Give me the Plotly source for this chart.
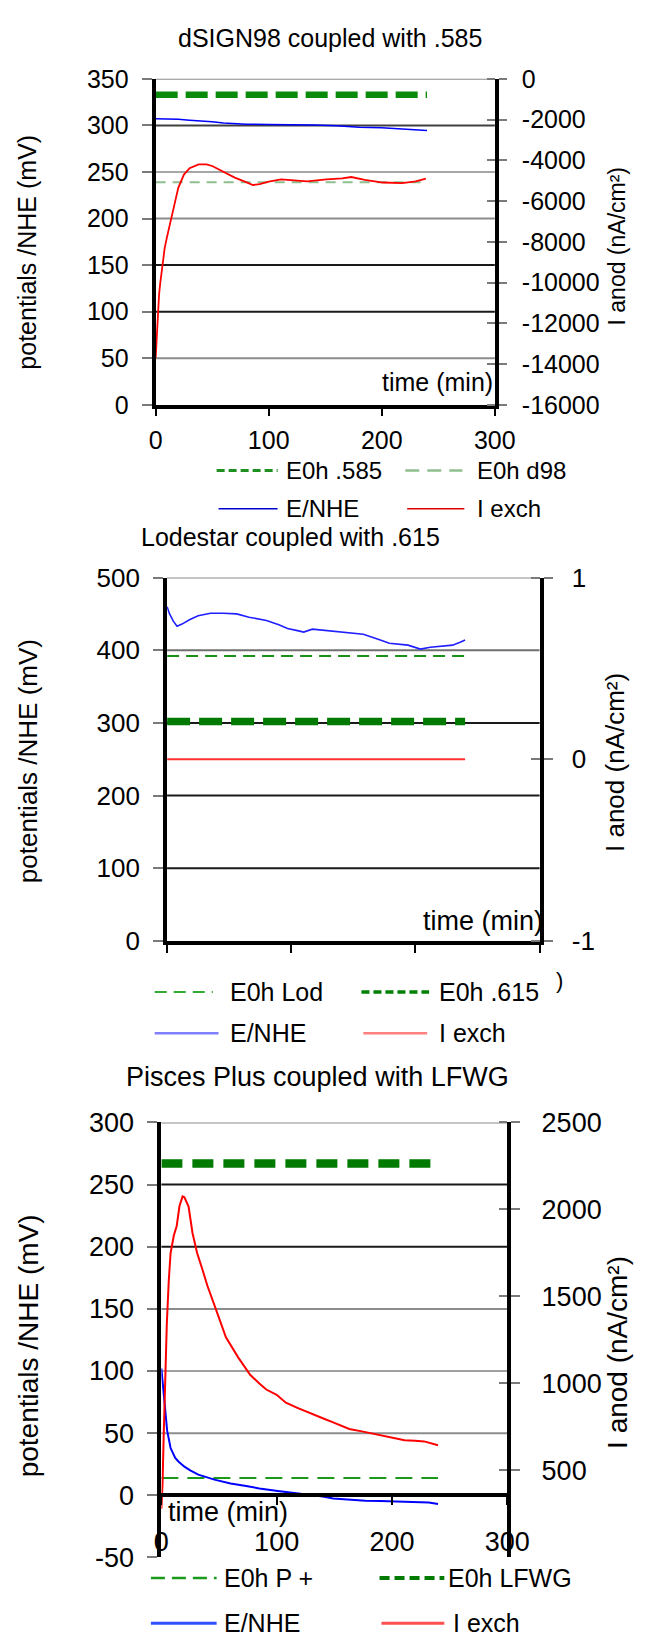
import plotly.graph_objects as go

W, H = 655, 1649
FONT = "Liberation Sans, Arial, Helvetica, sans-serif"


def px(x):
    return x / W


def py(y):
    return 1 - y / H


# ---------------- data ----------------
# Chart 1: dSIGN98 coupled with .585
c1_title = "dSIGN98 coupled with .585"
c1_ref_t = [0, 240]
c1_e0h_585 = [333, 333]
c1_e0h_d98 = [239, 239]
c1_blue_t = [0, 10, 20, 30, 40, 50, 60, 70, 80, 100, 120, 140, 160, 170, 180, 200, 220, 240]
c1_blue = [307, 307, 306.5, 305.5, 305, 304, 302.5, 301.5, 301.2, 301, 300.8, 300.3, 299.5,
           298.5, 298, 297.5, 296, 294.5]
c1_red_t = [0, 1, 2, 3, 4, 5, 6, 8, 10, 13, 16, 20, 25, 30, 38, 45, 50, 60, 70, 80, 86, 92, 100,
            111, 120, 134, 151, 165, 173, 185, 201, 218, 230, 239]
c1_red = [-13700, -12600, -11400, -10600, -10050, -9600, -9150, -8300, -7770, -7040, -6170,
          -5350, -4700, -4390, -4200, -4200, -4280, -4570, -4850, -5070, -5210, -5170, -5050,
          -4940, -4980, -5030, -4940, -4890, -4820, -4960, -5090, -5120, -5030, -4900]
c1_yticks = [0, 50, 100, 150, 200, 250, 300, 350]
c1_y2ticks = [-16000, -14000, -12000, -10000, -8000, -6000, -4000, -2000, 0]
c1_legend = ["E0h .585", "E0h d98", "E/NHE", "I exch"]

# Chart 2: Lodestar coupled with .615
c2_title = "Lodestar coupled with .615"
c2_ref_t = [0, 240]
c2_e0h_lod = [392, 392]
c2_e0h_615 = [302, 302]
c2_red = [0, 0]
c2_blue_t = [0, 2, 5, 8, 12, 18, 25, 35, 45, 56, 66, 80, 90, 97, 105, 110, 117, 130, 143, 158,
             170, 179, 194, 204, 212, 220, 230, 236, 240]
c2_blue = [460, 450, 440, 433, 436, 442, 447.5, 451, 451, 450, 445.5, 441, 435, 430, 427, 425,
           429, 427, 425, 422, 415, 409.5, 407, 401.5, 404, 405, 407, 411, 414]
c2_yticks = [0, 100, 200, 300, 400, 500]
c2_y2ticks = [-1, 0, 1]
c2_legend = ["E0h Lod", "E0h .615", "E/NHE", "I exch"]

# Chart 3: Pisces Plus coupled with LFWG
c3_title = "Pisces Plus coupled with LFWG"
c3_ref_t = [0, 240]
c3_e0h_p = [14, 14]
c3_e0h_lfwg = [267, 267]
c3_blue_t = [0, 1, 2, 3, 5, 8, 12, 15, 20, 25, 32, 46, 60, 73.5, 85, 101, 115, 128.6, 140, 149,
             160, 177, 190, 204, 215, 225, 232, 240]
c3_blue = [102, 92, 80, 69, 52, 38, 30, 27, 23, 20, 16.6, 12.6, 9.5, 7.4, 5.5, 3.5, 2, 0.8, -1,
           -2.6, -3.5, -4.4, -4.5, -5, -5.3, -5.8, -5.8, -7]
c3_red_t = [0, 1, 2, 3, 4, 4.7, 6.4, 8, 10.8, 13.3, 15.7, 18.4, 20, 23.6, 27, 31, 35.6, 40, 46,
            56, 66.6, 77, 85, 91, 100, 108, 118, 128.6, 140, 149, 163, 175, 183.5, 197.5, 211,
            220, 228, 240]
c3_red = [280, 420, 700, 960, 1200, 1340, 1590, 1750, 1850, 1905, 2020, 2075, 2070, 2017, 1865,
          1750, 1655, 1560, 1450, 1265, 1150, 1050, 1000, 965, 935, 889, 860, 833, 800, 776, 738,
          723, 711, 692, 673, 670, 667, 645]
c3_yticks = [-50, 0, 50, 100, 150, 200, 250, 300]
c3_y2ticks = [500, 1000, 1500, 2000, 2500]
c3_legend = ["E0h P +", "E0h LFWG", "E/NHE", "I exch"]

x_ticks = [0, 100, 200, 300]

# ---------------- figure ----------------
fig = go.Figure()


def line(x, y, xa, ya, color, width, dash="solid"):
    fig.add_trace(go.Scatter(x=x, y=y, xaxis=xa, yaxis=ya, mode="lines", showlegend=False,
                             hoverinfo="skip",
                             line=dict(color=color, width=width, dash=dash)))


# chart 1
line(c1_ref_t, c1_e0h_d98, "x", "y", "#8fbf8f", 2, "10px,7px")
line(c1_ref_t, c1_e0h_585, "x", "y", "#0a8a0a", 6.5, "22px,8px")
line(c1_blue_t, c1_blue, "x", "y", "#0000ff", 1.5)
line(c1_red_t, c1_red, "x", "y2", "#ff0000", 1.8)

# chart 2
line(c2_ref_t, c2_e0h_lod, "x2", "y3", "#1a8f1a", 2, "12px,7px")
line(c2_ref_t, c2_e0h_615, "x2", "y3", "#007a00", 7.5, "23px,9px")
line(c2_blue_t, c2_blue, "x2", "y3", "#1f1fff", 1.6)
line(c2_ref_t, c2_red, "x2", "y4", "#ff3030", 2)

# chart 3
line(c3_ref_t, c3_e0h_p, "x3", "y5", "#1a9a1a", 2, "17px,9px")
line(c3_ref_t, c3_e0h_lfwg, "x3", "y5", "#007a00", 8.5, "21px,10px")
line(c3_blue_t, c3_blue, "x3", "y5", "#0000ff", 2)
line(c3_red_t, c3_red, "x3", "y6", "#ff0000", 2)

# gridlines (style only)
grid_styles = {
    "y": {350: "#8c8c8c", 300: "#404040", 250: "#a6a6a6", 200: "#8c8c8c", 150: "#1a1a1a",
          100: "#1a1a1a", 50: "#8c8c8c"},
    "y3": {500: "#8c8c8c", 400: "#707070", 300: "#1a1a1a", 200: "#1a1a1a", 100: "#1a1a1a"},
    "y5": {300: "#8c8c8c", 250: "#1a1a1a", 200: "#1a1a1a", 150: "#8c8c8c", 100: "#a0a0a0",
           50: "#8c8c8c"},
}
grid_x = {"y": "x", "y3": "x2", "y5": "x3"}
shapes = []
for ya, d in grid_styles.items():
    for v, col in d.items():
        shapes.append(dict(type="line", xref=grid_x[ya] + " domain", x0=0, x1=1, yref=ya,
                           y0=v, y1=v, line=dict(color=col, width=2), layer="below"))


def leg_line(x0, x1, y, color, width, dash="solid"):
    shapes.append(dict(type="line", xref="paper", yref="paper", x0=px(x0), x1=px(x1),
                       y0=py(y), y1=py(y), line=dict(color=color, width=width, dash=dash)))


annotations = []


def text(x, y, s, size, xanchor="left", angle=0):
    annotations.append(dict(xref="paper", yref="paper", x=px(x), y=py(y), text=s,
                            showarrow=False, xanchor=xanchor, yanchor="middle",
                            textangle=angle, font=dict(size=size, color="black", family=FONT)))


# legend chart 1
leg_line(219, 283, 464, "#1f8f1f", 3, "8px,4px")
leg_line(417, 477, 464, "#8fbf8f", 2.5, "14px,8px")
leg_line(221, 283, 503, "#0000cc", 1.5)
leg_line(419, 479, 503, "#e00000", 1.5)
text(290, 464, c1_legend[0], 24)
text(490, 464, c1_legend[1], 24)
text(290, 503, c1_legend[2], 24)
text(490, 503, c1_legend[3], 24)

# legend chart 2
leg_line(154, 215, 995, "#33aa33", 2, "12px,7px")
leg_line(371, 442, 995, "#008000", 3.5, "8px,4px")
leg_line(154, 221, 1037, "#8080ff", 2.5)
leg_line(373, 440, 1037, "#ff8080", 2.5)
text(231, 995, c2_legend[0], 25)
text(450, 995, c2_legend[1], 25)
text(231, 1037, c2_legend[2], 25)
text(450, 1037, c2_legend[3], 25)

# legend chart 3
leg_line(150, 219, 1592, "#1a9a1a", 2.5, "14px,7px")
leg_line(390, 458, 1592, "#007a00", 4, "10px,5px")
leg_line(150, 219, 1638, "#3050ff", 3)
leg_line(392, 458, 1638, "#ff5050", 3)
text(225, 1592, c3_legend[0], 25)
text(460, 1592, c3_legend[1], 25)
text(225, 1638, c3_legend[2], 25)
text(465, 1638, c3_legend[3], 25)

# titles
text(338, 23, c1_title, 25, "center")
text(297, 532, c2_title, 25, "center")
text(325, 1082, c3_title, 27, "center")

# axis titles
yt = "potentials /NHE (mV)"
y2t = "I anod (nA/cm²)"
text(20, 242, yt, 25, "center", -90)
text(639, 235, y2t, 23, "center", -90)
text(21, 760, yt, 26, "center", -90)
text(637, 761, y2t, 26, "center", -90)
text(21, 1356, yt, 28, "center", -90)
text(640, 1362, y2t, 28, "center", -90)

# time labels
text(511, 374, "time (min)", 25, "right")
text(564, 923, "time (min)", 27, "right")
text(166, 1525, "time (min)", 27, "left")
text(579, 983, ")", 22, "center")


def xax(dom, anchor, size, labels=True, **kw):
    d = dict(domain=[px(dom[0]), px(dom[1])], range=[0, 300], anchor=anchor,
             tickvals=x_ticks, ticktext=[str(v) for v in x_ticks] if labels else ["" for v in x_ticks],
             ticks="outside", ticklen=8, tickwidth=2, tickcolor="black",
             showline=True, linewidth=4, linecolor="black", showgrid=False, zeroline=False,
             tickfont=dict(size=size, family=FONT, color="black"), fixedrange=True)
    d.update(kw)
    return d


def yax(dom, rng, ticks, anchor, size, side="left", overlaying=None, **kw):
    d = dict(range=rng, anchor=anchor, side=side,
             tickvals=ticks, ticktext=[str(v) for v in ticks],
             ticks="outside", ticklen=10, tickwidth=2, tickcolor="#7a7a7a",
             showline=True, linewidth=4, linecolor="black", showgrid=False, zeroline=False,
             tickfont=dict(size=size, family=FONT, color="black"), fixedrange=True)
    if overlaying:
        d["overlaying"] = overlaying
    else:
        d["domain"] = [py(dom[1]), py(dom[0])]
    d.update(kw)
    return d


fig.update_layout(
    width=W, height=H, autosize=False,
    margin=dict(l=0, r=0, t=0, b=0),
    paper_bgcolor="white", plot_bgcolor="white",
    font=dict(family=FONT, color="black"),
    showlegend=False,
    shapes=shapes, annotations=annotations,
    # chart 1
    xaxis=xax((155, 511), "y", 25, ticklen=7, ticklabelstandoff=3),
    yaxis=yax((65, 397), [0, 350], c1_yticks, "x", 25, ticklabelstandoff=8),
    yaxis2=yax(None, [-16000, 0], c1_y2ticks, "x", 25, side="right", overlaying="y",
               ticklen=8, ticklabelstandoff=10,
               minor=dict(tickvals=c1_y2ticks, ticks="inside", ticklen=8, tickwidth=2,
                          tickcolor="#7a7a7a")),
    # chart 2
    xaxis2=xax((167, 558), "y3", 25, labels=False),
    yaxis3=yax((573, 943), [0, 500], c2_yticks, "x2", 26, ticklabelstandoff=8),
    yaxis4=yax(None, [-1, 1], c2_y2ticks, "x2", 26, side="right", overlaying="y3",
               ticklen=9, ticklabelstandoff=14,
               minor=dict(tickvals=c2_y2ticks, ticks="inside", ticklen=9, tickwidth=2,
                          tickcolor="#7a7a7a")),
    # chart 3
    xaxis3=xax((161, 524), "free", 27, position=py(1507.7), ticklabelstandoff=13),
    yaxis5=yax((1128, 1571), [-50, 300], c3_yticks, "x3", 27, ticklabelstandoff=8),
    yaxis6=yax(None, [0, 2500], c3_y2ticks, "x3", 27, side="right", overlaying="y5",
               ticklen=9, ticklabelstandoff=16,
               minor=dict(tickvals=c3_y2ticks, ticks="inside", ticklen=8, tickwidth=2,
                          tickcolor="#7a7a7a")),
)

fig.write_html("out.html")
